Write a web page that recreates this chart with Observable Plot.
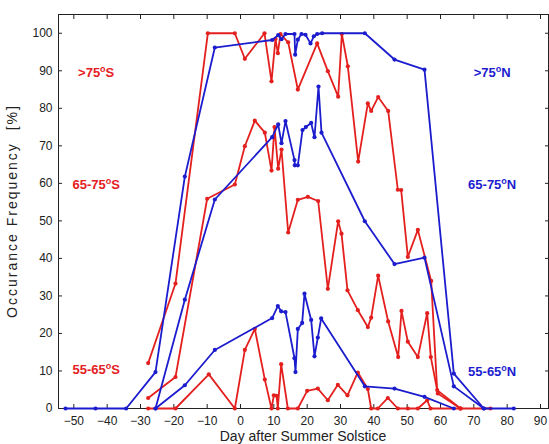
<!DOCTYPE html>
<html>
<head>
<meta charset="utf-8">
<script src="https://cdn.jsdelivr.net/npm/d3@7"></script>
<script src="https://cdn.jsdelivr.net/npm/@observablehq/plot@0.6"></script>
<style>
  body { margin: 0; background: #fff; }
  #chart svg { font-family: "Liberation Sans", Arial, sans-serif; }
</style>
</head>
<body>
<div id="chart"></div>
<script>
// ---- data ----
const southHighDay = [-27.7,-19.5,-9.8,-1.7,1.3,7.2,9.3,10.5,11.2,12,14.3,17.2,23,26.2,29.3,30.4,32.2,35.3,38.2,39.2,41.3,44.3,47.2,48.2,50.2,53.2,57.2,59,66];
const southHighVal = [12.1,33.3,100,100,93.2,100,87.2,98.5,94.7,99.8,97.6,85.0,97.3,89.9,83.1,99.8,91.2,65.8,81.3,79.3,83.0,79.3,58.3,58.2,40.4,47.6,34.0,4.9,0];

const southMidDay = [-27.7,-19.5,-10,-1.7,1.3,4.3,7.3,9.3,10.2,11.3,12.3,14.3,17.2,20.2,23.3,26.2,29.3,30.3,32.1,35.2,38.2,39.2,41.3,44.3,47.3,48.3,50.2,53.2,56,57.1,59.2,66];
const southMidVal = [2.8,8.4,55.9,59.7,69.9,76.7,73.5,63.4,75.0,63.9,69.0,46.9,55.6,56.4,55.3,31.9,49.9,46.6,31.5,26.2,21.7,24.2,35.4,23.2,13.7,26.0,17.8,13.7,25.4,13.7,4.0,0];

const southLowDay = [-27.7,-19.5,-9.5,-1.7,1.3,4.3,7.3,9.3,10,10.8,11.2,12.2,14.2,17.2,20,23.2,26.2,29.2,32.1,35.2,38.2,39.2,41.2,44.2,47.2,50.2,53.2,56,57,66,75];
const southLowVal = [0,0,9.1,0,15.6,21.2,7.7,0,3.5,3.4,0,11.8,0,0,4.7,5.3,2.2,6.3,3.5,9.6,5.2,0,0,2.8,0,0,0,2.2,0,0,0];

const northHighDay = [-52.5,-43.5,-34.3,-25.5,-16.7,-7.7,9.5,11.3,12.3,13.5,16.2,16.4,17.2,18.3,19.5,21.0,22.0,23.0,24.5,37.3,46.2,55.2,64,73,82];
const northHighVal = [0,0,0,9.7,61.8,96.2,98.2,99.5,98.4,99.8,99.8,94.3,98.3,99.8,99.6,97.3,99.2,99.8,100,100,93.0,90.3,9.3,0,0];

const northMidDay = [-25.5,-16.7,-7.7,9.5,11.3,12.3,13.5,16.2,16.3,17.2,18.6,19.6,21.2,22.2,23.4,24.3,37.3,46.2,55.2,64,73];
const northMidVal = [0,29.0,55.7,72.3,75.7,70.7,76.6,66.2,64.8,64.8,74.2,75.0,76.1,72.3,85.8,73.5,49.9,38.5,40.2,5.9,0];

const northLowDay = [-25.5,-16.7,-7.7,9.5,11.2,12.2,13.5,16.2,16.5,17.2,18.5,19.2,21.2,22.2,23.2,24.2,37.3,46.2,55.2,64];
const northLowVal = [0,6.2,15.6,24.1,27.3,25.9,25.7,13.4,9.7,21.2,22.8,30.6,23.6,13.9,18.9,24.0,5.9,5.3,3.1,0];

const xTicks = [-50,-40,-30,-20,-10,0,10,20,30,40,50,60,70,80,90];
const yTicks = [0,10,20,30,40,50,60,70,80,90,100];

const southLabels = [">75°S", "65-75°S", "55-65°S"];
const southLabelY = [89.5, 59.5, 10.2];
const northLabels = [">75°N", "65-75°N", "55-65°N"];
const northLabelY = [89.5, 59.5, 9.8];

const RED = "#e4201f";
const BLUE = "#1c1ccf";

function rows(days, vals, name) {
  return days.map((d, i) => ({day: d, val: vals[i], series: name}));
}
const series = [
  {data: rows(southHighDay, southHighVal, "S>75"), color: RED},
  {data: rows(southMidDay, southMidVal, "S65-75"), color: RED},
  {data: rows(southLowDay, southLowVal, "S55-65"), color: RED},
  {data: rows(northHighDay, northHighVal, "N>75"), color: BLUE},
  {data: rows(northMidDay, northMidVal, "N65-75"), color: BLUE},
  {data: rows(northLowDay, northLowVal, "N55-65"), color: BLUE}
];

const labelRows = [
  ...southLabels.map((t, i) => ({t, y: southLabelY[i], x: -43.3, c: RED})),
  ...northLabels.map((t, i) => ({t, y: northLabelY[i], x: 75.5, c: BLUE}))
];

const marks = [];
marks.push(Plot.frame({stroke: "#222", strokeWidth: 1}));
marks.push(Plot.axisX({ticks: xTicks, tickSize: -4, tickPadding: 12, fontSize: 12, label: null}));
marks.push(Plot.axisX({anchor: "top", ticks: xTicks, tickSize: -4, tickFormat: () => "", label: null}));
marks.push(Plot.axisY({ticks: yTicks, tickSize: -4, tickPadding: 10, fontSize: 12, label: null}));
marks.push(Plot.axisY({anchor: "right", ticks: yTicks, tickSize: -4, tickFormat: () => "", label: null}));
for (const s of series) {
  marks.push(Plot.line(s.data, {x: "day", y: "val", stroke: s.color, strokeWidth: 1.8}));
  marks.push(Plot.dot(s.data, {x: "day", y: "val", fill: s.color, r: 2.1}));
}
marks.push(Plot.text(labelRows, {x: "x", y: "y", text: "t", fill: d => d.c, fontSize: 13, fontWeight: "bold", textAnchor: "middle"}));

const plot = Plot.plot({
  width: 549,
  height: 444,
  marginLeft: 58,
  marginRight: 1,
  marginTop: 14,
  marginBottom: 36,
  x: {domain: [-54.6, 92.4]},
  y: {domain: [0, 105]},
  style: {fontSize: "12px", color: "#222", background: "#fff"},
  marks
});

// axis titles, as real SVG text
const ns = "http://www.w3.org/2000/svg";
const xt = document.createElementNS(ns, "text");
xt.setAttribute("x", 303); xt.setAttribute("y", 441);
xt.setAttribute("text-anchor", "middle"); xt.setAttribute("font-size", "14");
xt.setAttribute("fill", "#222");
xt.textContent = "Day after Summer Solstice";
plot.appendChild(xt);
const yt = document.createElementNS(ns, "text");
yt.setAttribute("transform", "translate(17,211) rotate(-90)");
yt.setAttribute("text-anchor", "middle"); yt.setAttribute("font-size", "14");
yt.setAttribute("fill", "#222"); yt.setAttribute("style", "white-space:pre; letter-spacing:2px");
yt.textContent = "Occurance Frequency  [%]";
plot.appendChild(yt);

// render the "o" of the degree labels as a raised small letter, like the original
plot.querySelectorAll("text").forEach(t => {
  const s = t.textContent;
  if (s.includes("°")) {
    const [a, b] = s.split("°");
    while (t.firstChild) t.removeChild(t.firstChild);
    const t1 = document.createElementNS(ns, "tspan"); t1.textContent = a;
    const t2 = document.createElementNS(ns, "tspan"); t2.textContent = "o";
    t2.setAttribute("font-size", "9"); t2.setAttribute("dy", "-5");
    const t3 = document.createElementNS(ns, "tspan"); t3.textContent = b; t3.setAttribute("dy", "5");
    t.appendChild(t1); t.appendChild(t2); t.appendChild(t3);
  }
});

document.getElementById("chart").appendChild(plot);
</script>
</body>
</html>
